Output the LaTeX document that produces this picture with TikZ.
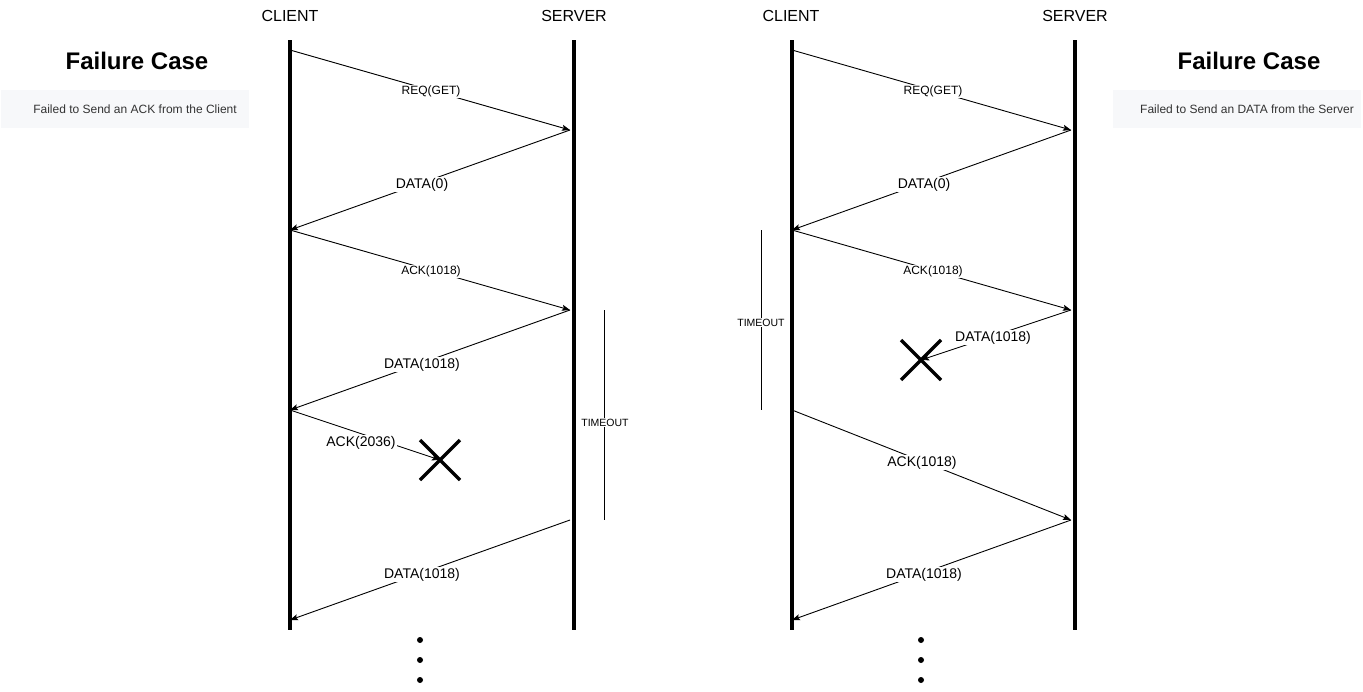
\documentclass[tikz,border=0pt]{standalone}
\usepackage{fontspec}
\setmainfont{Liberation Sans}
\usetikzlibrary{arrows.meta}
\definecolor{boxfill}{HTML}{F7F8FA}
\definecolor{boxtext}{HTML}{333333}
\tikzset{
  lifeline/.style={line width=3.5pt},
  msg/.style={line width=0.9pt,-{Stealth[length=8pt,width=6pt,inset=1.5pt]}},
  smalllbl/.style={fill=white,inner sep=1pt,yshift=-1.5pt,font=\fontsize{12}{14}\selectfont},
  tolbl/.style={fill=white,inner sep=1pt,yshift=-1.5pt,font=\fontsize{10.5}{12}\selectfont},
  lbl/.style={fill=white,inner sep=1pt,yshift=-1.5pt,font=\fontsize{14}{16}\selectfont},
  header/.style={yshift=-1pt,font=\fontsize{16}{18}\selectfont},
  title/.style={font=\fontsize{24}{28}\selectfont\bfseries},
  notebox/.style={fill=boxfill,draw=none,minimum width=248pt,minimum height=38pt,font=\fontsize{12}{14}\selectfont,text=boxtext},
  cross/.style={line width=3.5pt},
  toline/.style={line width=0.9pt},
  dot/.style={circle,fill=black,inner sep=0pt,minimum size=6pt},
}
\begin{document}
\begin{tikzpicture}[x=1pt,y=-1pt]
\useasboundingbox (0,0) rectangle (1363,691);
% headers
\node[header] (c1) at (290,15) {CLIENT};
\node[header] (s1) at (574,15) {SERVER};
\node[header] (c2) at (791,15) {CLIENT};
\node[header] (s2) at (1075,15) {SERVER};
% titles
\node[title] (t1) at (137,61) {Failure Case};
\node[title] (t2) at (1249,61) {Failure Case};
\node[notebox] (b1) at (125,109) {\hspace*{20pt}\raisebox{-1pt}{Failed to Send an ACK from the Client}};
\node[notebox] (b2) at (1237,109) {\hspace*{20pt}\raisebox{-1pt}{Failed to Send an DATA from the Server}};
% lifelines
\coordinate (c1t) at (290,40); \coordinate (c1b) at (290,630);
\coordinate (s1t) at (574,40); \coordinate (s1b) at (574,630);
\coordinate (c2t) at (792,40); \coordinate (c2b) at (792,630);
\coordinate (s2t) at (1075,40); \coordinate (s2b) at (1075,630);
\draw[lifeline] (c1t) -- (c1b);
\draw[lifeline] (s1t) -- (s1b);
\draw[lifeline] (c2t) -- (c2b);
\draw[lifeline] (s2t) -- (s2b);
% ===== left diagram =====
\coordinate (L1) at (290,50);  \coordinate (L2) at (570,130);
\coordinate (L3) at (290,230); \coordinate (L4) at (570,310);
\coordinate (L5) at (290,410); \coordinate (LX) at (440,460);
\coordinate (L6) at (570,520); \coordinate (L7) at (290,620);
\draw[msg] (L1) -- (L2);
\draw[msg] (L2) -- (L3);
\draw[msg] (L3) -- (L4);
\draw[msg] (L4) -- (L5);
\draw[msg] (L5) -- (LX);
\draw[msg] (L6) -- (L7);
\node[smalllbl] (la1) at (431,90) {REQ(GET)};
\node[lbl] (la2) at (422,183) {DATA(0)};
\node[smalllbl] (la3) at (431,270) {ACK(1018)};
\node[lbl] (la4) at (422,363) {DATA(1018)};
\node[lbl] (la5) at (361,441) {ACK(2036)};
\node[lbl] (la6) at (422,573) {DATA(1018)};
\draw[cross] (420,440) -- (460,480) (420,480) -- (460,440);
\coordinate (T1a) at (604,310); \coordinate (T1b) at (604,520);
\draw[toline] (T1a) -- (T1b);
\node[tolbl] (to1) at (605,421) {TIMEOUT};
\node[dot] (d1) at (420,640) {};
\node[dot] (d2) at (420,660) {};
\node[dot] (d3) at (420,680) {};
% ===== right diagram =====
\coordinate (R1) at (792,50);  \coordinate (R2) at (1071,130);
\coordinate (R3) at (792,230); \coordinate (R4) at (1071,310);
\coordinate (RX) at (921,360);
\coordinate (R5) at (792,410); \coordinate (R6) at (1071,520);
\coordinate (R7) at (792,620);
\draw[msg] (R1) -- (R2);
\draw[msg] (R2) -- (R3);
\draw[msg] (R3) -- (R4);
\draw[msg] (R4) -- (RX);
\draw[msg] (R5) -- (R6);
\draw[msg] (R6) -- (R7);
\node[smalllbl] (ra1) at (933,90) {REQ(GET)};
\node[lbl] (ra2) at (924,183) {DATA(0)};
\node[smalllbl] (ra3) at (933,270) {ACK(1018)};
\node[lbl] (ra4) at (993,336) {DATA(1018)};
\node[lbl] (ra5) at (922,461) {ACK(1018)};
\node[lbl] (ra6) at (924,573) {DATA(1018)};
\draw[cross] (901,340) -- (941,380) (901,380) -- (941,340);
\coordinate (T2a) at (761,230); \coordinate (T2b) at (761,410);
\draw[toline] (T2a) -- (T2b);
\node[tolbl] (to2) at (761,321) {TIMEOUT};
\node[dot] (e1) at (921,640) {};
\node[dot] (e2) at (921,660) {};
\node[dot] (e3) at (921,680) {};
\end{tikzpicture}
\end{document}
